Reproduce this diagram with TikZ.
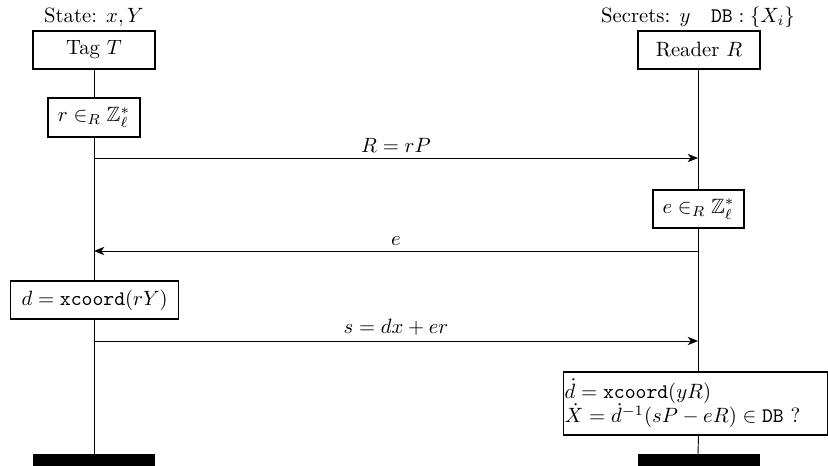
\documentclass[tikz,border=0pt]{standalone}
\usepackage{amsmath,amssymb}
\usetikzlibrary{arrows.meta}
\begin{document}
\begin{tikzpicture}[x=0.4831pt,y=-0.4831pt,
  actor/.style={draw,line width=0.6pt,minimum width=58.9pt,minimum height=18.4pt,inner sep=0pt},
  act/.style={draw,line width=0.6pt,inner sep=0pt},
  life/.style={line width=0.45pt},
  msg/.style={line width=0.45pt,-{Stealth[length=5pt,width=4pt,inset=1.5pt]}},
  lbl/.style={inner sep=2.5pt},
  bar/.style={fill=black,draw=none}]
\useasboundingbox (0,0) rectangle (828,466);
% headers
\node (st) at (94,17) {State: $x,Y$};
\node (sc) at (698,17) {Secrets: $y$\quad$\mathtt{DB}:\{X_i\}$};
% actors
\node[actor] (T) at (94,50) {Tag $T$};
\node[actor] (R) at (699,50) {Reader $R$};
% actions
\node[act,minimum width=44.4pt,minimum height=18.8pt] (r) at (94,117.5) {$r\in_R\mathbb{Z}_\ell^*$};
\node[act,minimum width=44pt,minimum height=18.4pt] (e) at (698.5,209) {$e\in_R\mathbb{Z}_\ell^*$};
\node[act,minimum width=81.2pt,minimum height=18.4pt,anchor=west,inner xsep=1pt] (d) at (10,300) {$d=\mathtt{xcoord}(rY)$};
\node[act,text width=126.5pt,minimum height=30.4pt,anchor=west,align=left,inner xsep=0.5pt] (v) at (563,403.5) {$\dot d=\mathtt{xcoord}(yR)$\\$\dot X=\dot d^{-1}(sP-eR)\in\mathtt{DB}$ ?};
% bars
\coordinate (lb) at (94,454);
\coordinate (rb) at (698,454);
\fill[bar] (33,454) rectangle (155,466);
\fill[bar] (638,454) rectangle (760,466);
% lifelines
\draw[life] (T.south) -- (r.north);
\draw[life] (r.south) -- (d.north -| r.south);
\draw[life] (d.south -| r.south) -- (lb);
\draw[life] (R.south -| e.north) -- (e.north);
\draw[life] (e.south) -- (v.north -| e.south);
\draw[life] (v.south -| e.south) -- (rb);
% messages
\coordinate (m1a) at (94,158); \coordinate (m1b) at (698,158);
\coordinate (m2a) at (698,251); \coordinate (m2b) at (94,251);
\coordinate (m3a) at (94,341); \coordinate (m3b) at (698,341);
\draw[msg] (m1a) -- node[lbl,above] {$R=rP$} (m1b);
\draw[msg] (m2a) -- node[lbl,above] {$e$} (m2b);
\draw[msg] (m3a) -- node[lbl,above] {$s=dx+er$} (m3b);
\end{tikzpicture}
\end{document}
